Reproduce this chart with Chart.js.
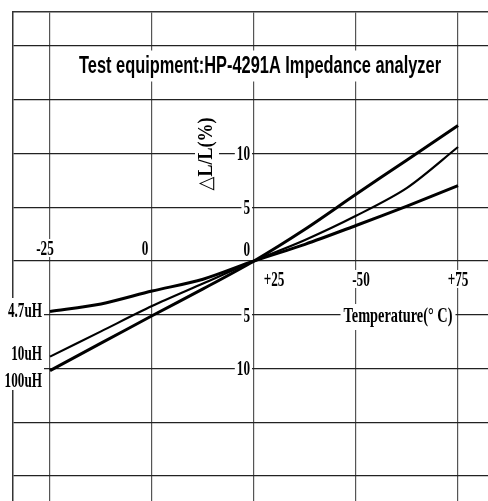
<!DOCTYPE html>
<html>
<head>
<meta charset="utf-8">
<script src="https://cdn.jsdelivr.net/npm/chart.js@4"></script>
<style>
  html, body { margin: 0; padding: 0; background: #fff; }
  canvas { display: block; }
</style>
</head>
<body>
<canvas id="chart" width="488" height="501"></canvas>
<script>
// temperature (deg C)
var temps = [-25, -12.5, 0, 12.5, 25, 37.5, 50, 62.5, 75];
// inductance change dL/L (%) for each part
var dl4u7 = [-4.7, -4.0, -2.8, -1.7, 0, 1.55, 3.3, 5.1, 7.0];
var dl10u = [-8.9, -6.55, -4.2, -2.1, 0, 1.95, 4.2, 6.8, 10.6];
var dl100u = [-10.2, -7.65, -5.1, -2.6, 0, 2.95, 6.2, 9.4, 12.6];
var seriesNames = ["4.7uH", "10uH", "100uH"];

var xGridValues = [-25, 0, 25, 50, 75];
var xTickLabels = ["-25", "0", "+25", "-50", "+75"];
var yGridValues = [-20, -15, -10, -5, 0, 5, 10, 15, 20];
var yTickValues = [10, 5, 0, -5, -10];
var yTickLabels = ["10", "5", "0", "5", "10"];

var titleText = "Test equipment:HP-4291A Impedance analyzer";
var xTitle = "Temperature(\u00b0 C)";
var yTitle = "\u25b3L/L(%)";

var serifB = 'bold 20px "Liberation Serif", "DejaVu Serif", serif';
var serifTick = 'bold 22px "Liberation Serif", "DejaVu Serif", serif';
var sansB = 'bold 24px "Liberation Sans Narrow", "Liberation Sans", Arial, sans-serif';

function toPoints(ys) {
    return temps.map(function(t, i) { return { x: t, y: ys[i] }; });
}

// draws text centred on (x, y), squeezed sideways, with a white box behind it
function label(ctx, text, x, y, opt) {
    ctx.save();
    ctx.font = opt.font;
    var m = ctx.measureText(text);
    var sx = opt.width ? opt.width / m.width : opt.sx;
    var w = m.width * sx;
    var asc = m.actualBoundingBoxAscent, desc = m.actualBoundingBoxDescent;
    var h = asc + desc;
    var pad = opt.pad || 2;
    ctx.translate(x, y);
    if (opt.rotate) ctx.rotate(opt.rotate);
    var left = opt.align === "right" ? -w : (opt.align === "left" ? 0 : -w / 2);
    if (opt.box !== false) {
        ctx.fillStyle = "#fff";
        ctx.fillRect(left - pad, -h / 2 - pad, w + pad * 2, h + pad * 2);
    }
    ctx.scale(sx, 1);
    ctx.fillStyle = "#000";
    ctx.textAlign = "left";
    ctx.textBaseline = "alphabetic";
    ctx.fillText(text, left / sx, h / 2 - desc);
    ctx.restore();
}

var labelsPlugin = {
    id: "labels",
    beforeDatasetsDraw: function(chart) {
        var ctx = chart.ctx;
        var xs = chart.scales.x, ys = chart.scales.y;
        var x0 = xs.getPixelForValue(25), y0 = ys.getPixelForValue(0);

        label(ctx, titleText, 260, 66, { font: sansB, width: 362, pad: 4 });
        label(ctx, yTitle, 207, 154, { font: serifB, sx: 0.9, rotate: -Math.PI / 2 });

        // x tick labels, sitting on the zero line
        var xdx = [-5, -7, 20, 5, 0];
        var xdy = [-13, -13, 18, 18, 18];
        xGridValues.forEach(function(v, i) {
            label(ctx, xTickLabels[i], xs.getPixelForValue(v) + xdx[i], y0 + xdy[i], { font: serifTick, sx: 0.6 });
        });

        // y tick labels, left of the +25 line
        yTickValues.forEach(function(v, i) {
            var y = ys.getPixelForValue(v) + (v === 0 ? -12 : 0);
            label(ctx, yTickLabels[i], x0 - 4, y, { font: serifTick, sx: 0.6, align: "right" });
        });

        label(ctx, xTitle, 398, 317, { font: serifTick, width: 109, pad: 3 });

        // part names at the left end of each curve
        ctx.fillStyle = "#fff";
        ctx.fillRect(3, 298, 41, 92);
        var starts = [dl4u7[0], dl10u[0], dl100u[0]];
        var sdy = [-1, -4, 9];
        seriesNames.forEach(function(n, i) {
            label(ctx, n, 42, ys.getPixelForValue(starts[i]) + sdy[i], { font: serifTick, sx: 0.6, align: "right" });
        });
    }
};

var ctx = document.getElementById("chart");
var chart = new Chart(ctx, {
    type: "line",
    data: {
        datasets: [
            { label: seriesNames[0], data: toPoints(dl4u7), borderColor: "#000", borderWidth: 3 },
            { label: seriesNames[1], data: toPoints(dl10u), borderColor: "#000", borderWidth: 2.2 },
            { label: seriesNames[2], data: toPoints(dl100u), borderColor: "#000", borderWidth: 3 }
        ]
    },
    options: {
        responsive: false,
        animation: false,
        devicePixelRatio: 1,
        layout: { padding: { left: 13, top: 12, right: 0, bottom: 0 } },
        elements: { point: { radius: 0 }, line: { tension: 0.3 } },
        plugins: {
            legend: { display: false },
            tooltip: { enabled: false }
        },
        scales: {
            x: {
                type: "linear",
                position: "top",
                min: -34.07,
                max: 82.35,
                afterBuildTicks: function(axis) {
                    axis.ticks = xGridValues.map(function(v) { return { value: v }; });
                },
                ticks: { display: false },
                grid: { color: "#555", lineWidth: 1.2, drawTicks: false },
                border: { display: true, color: "#333", width: 1.5 }
            },
            y: {
                type: "linear",
                position: "left",
                min: -22.33,
                max: 23.16,
                afterBuildTicks: function(axis) {
                    axis.ticks = yGridValues.map(function(v) { return { value: v }; });
                },
                ticks: { display: false },
                grid: { color: "#222", lineWidth: 1.2, drawTicks: false },
                border: { display: true, color: "#333", width: 1.5 }
            }
        }
    },
    plugins: [labelsPlugin]
});
</script>
</body>
</html>
